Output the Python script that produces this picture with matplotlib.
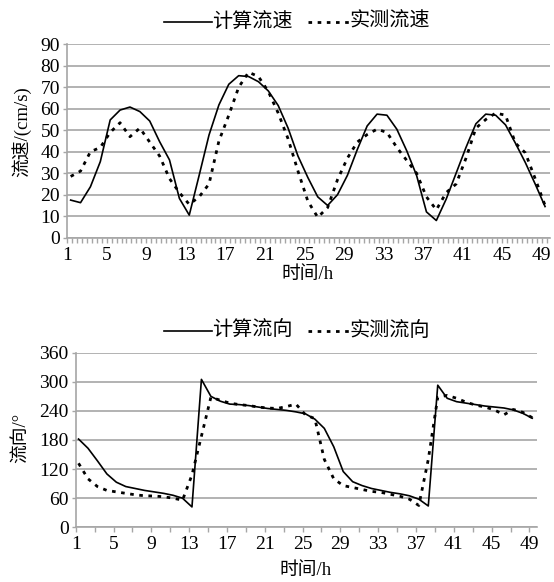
import matplotlib
matplotlib.use("Agg")
import matplotlib.pyplot as plt
from matplotlib.lines import Line2D
import numpy as np

hours = list(range(1, 50))

calc_speed = [17.5, 16.3, 23.7, 35.4, 54.8, 59.4, 60.8, 58.7, 54.3, 44.7,
              36.2, 18.3, 10.5, 29, 47.8, 61.8, 71.4, 75.4, 75, 72.6,
              68.3, 61.5, 51, 38, 28, 19, 15, 20, 29, 41,
              52, 57.5, 57, 50.5, 40.5, 29, 12, 8, 18, 30,
              42, 53, 57.5, 57, 52.5, 44, 35, 25, 14.5]
meas_speed = [28.5, 31, 40, 42, 49, 53.5, 47, 51, 44.5, 38,
              27.5, 21, 15.5, 19, 25, 45, 57, 70, 77, 75,
              68, 58, 46, 31, 17, 9.5, 14, 27, 37, 44.5,
              48, 50.5, 49, 42, 36, 30, 19, 13, 21, 25,
              37, 51, 55, 58, 57, 44, 39.5, 27.5, 15]

calc_dir = [182, 163, 137, 110, 93, 84, 80, 76, 73, 70,
            66, 60, 42, 305, 270, 260, 254, 253, 251, 248,
            245, 243, 241, 238, 234, 223, 204, 166, 115, 94,
            86, 80, 76, 72, 69, 65, 58, 44, 293, 266,
            259, 256, 253, 250, 248, 246, 242, 235, 225]
meas_dir = [132, 100, 84, 76, 73, 70, 67, 65, 64.5, 63,
            60, 56, 108, 188, 268, 262, 256, 253, 251, 248,
            246, 245, 249, 254, 232, 224, 140, 100, 86, 82,
            78, 74, 72, 68, 64, 58, 45, 140, 268, 272,
            266, 258, 252, 248, 242, 232, 243, 237, 226]

label_hours = list(range(1, 50, 4))
speed_ticks = list(range(0, 91, 10))
dir_ticks = list(range(0, 361, 60))

W, H = 554, 582
fig = plt.figure(figsize=(W / 100, H / 100), dpi=100)

NUM = ['Liberation Serif', 'Noto Sans CJK SC']
CJK = ['Liberation Serif', 'Noto Sans CJK SC']
GRID = '#a6a6a6'
DOTS = (0, (1.3, 2.0))
DOT_LW = 2.0


def box(l, t, r, b):
    return [l / W, 1 - b / H, (r - l) / W, (b - t) / H]


def style(ax, xlo, off, minor_step, yticks):
    ax.set_xlim(xlo, 49.5)
    ax.set_ylim(yticks[0], yticks[-1])
    ax.set_yticks(yticks)
    ax.set_yticklabels([str(v) for v in yticks], family=NUM, fontsize=14)
    ax.set_xticks([h - off for h in label_hours])
    ax.set_xticklabels([str(h) for h in label_hours], family=NUM, fontsize=14)
    ax.set_xticks(np.arange(1 - off, 49.51, minor_step), minor=True)
    ax.grid(axis='y', color=GRID, linewidth=1.2)
    ax.set_axisbelow(True)
    for s in ['top', 'right']:
        ax.spines[s].set_visible(False)
    for s in ['left', 'bottom']:
        ax.spines[s].set_color(GRID)
        ax.spines[s].set_linewidth(1.2)
    ax.tick_params(axis='x', which='both', direction='out', length=3.5,
                   width=1, color=GRID, pad=3)
    ax.tick_params(axis='y', direction='out', length=3, width=1,
                   color=GRID, pad=2)


# top chart
ax1 = fig.add_axes(box(67, 44.3, 550, 237.7))
ax1.plot(hours, calc_speed, color='black', linewidth=1.2)
ax1.plot(hours, meas_speed, color='black', linewidth=DOT_LW, linestyle=DOTS)
style(ax1, 0.63, 0.35, 0.5, speed_ticks)

# bottom chart
ax2 = fig.add_axes(box(75.7, 352.7, 537, 527.3))
ax2.plot(hours, calc_dir, color='black', linewidth=1.2)
ax2.plot(hours, meas_dir, color='black', linewidth=DOT_LW, linestyle=DOTS)
style(ax2, 0.7, 0.3, 2, dir_ticks)

# axis labels
fig.text(308 / W, 1 - 275 / H, '时间/h', family=CJK, fontsize=13.5,
         ha='center', va='center')
fig.text(306 / W, 1 - 571 / H, '时间/h', family=CJK, fontsize=13.5,
         ha='center', va='center')
fig.text(21 / W, 1 - 132 / H, '流速/(cm/s)', family=CJK, fontsize=13.5,
         ha='center', va='center', rotation=90)
fig.text(20 / W, 1 - 438 / H, '流向/°', family=CJK, fontsize=13.5,
         ha='center', va='center', rotation=90)


def legend(yc, names):
    y = 1 - yc / H
    fig.add_artist(Line2D([164 / W, 212 / W], [y, y], color='black',
                          linewidth=1.2, transform=fig.transFigure))
    fig.text(212 / W, y, names[0], family=CJK, fontsize=14.5,
             ha='left', va='center')
    fig.add_artist(Line2D([308 / W, 349 / W], [y, y], color='black',
                          linewidth=DOT_LW, linestyle=DOTS,
                          transform=fig.transFigure))
    fig.text(350 / W, y, names[1], family=CJK, fontsize=14.5,
             ha='left', va='center')


legend(22, ['计算流速', '实测流速'])
legend(331, ['计算流向', '实测流向'])

fig.savefig('out.png', dpi=100)
